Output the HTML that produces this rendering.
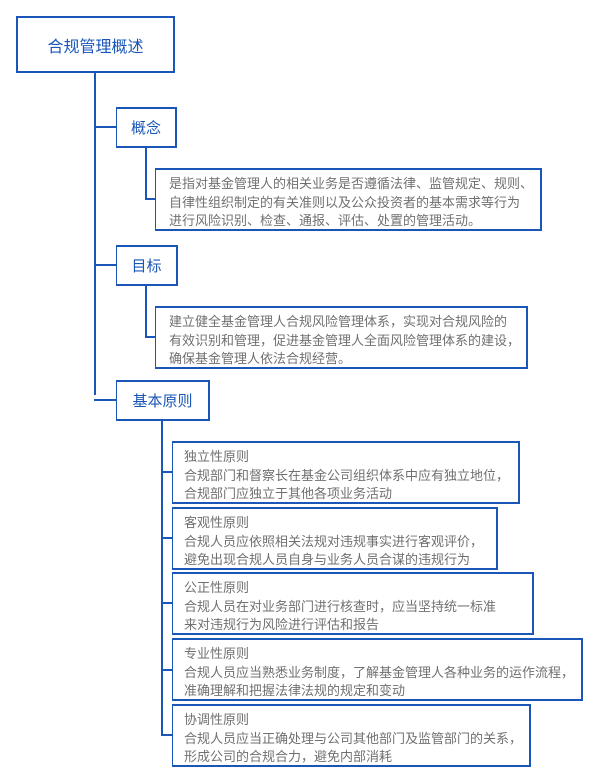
<!DOCTYPE html>
<html><head><meta charset="utf-8"><style>
body{margin:0;width:600px;height:783px;background:#fff;position:relative;overflow:hidden;font-family:"Liberation Sans","Noto Sans CJK SC",sans-serif}
.b{position:absolute;box-sizing:border-box;border:2px solid #1a56b8;border-left-width:1.5px;border-bottom-width:2px;background:#fff}
.h{color:#1a56b8;display:flex;align-items:center;justify-content:center}
.t{color:#707070;font-size:13px;line-height:18.5px;padding:5px 0 0 11px;white-space:nowrap}
.l{position:absolute;background:#1a56b8}
</style></head><body>
<div class="b h" style="left:16px;top:16px;width:159px;height:57px;border-width:2.5px;font-size:16px">合规管理概述</div>
<div class="l" style="left:94px;top:73px;width:2px;height:322px"></div>
<div class="l" style="left:94px;top:126px;width:23px;height:2px"></div>
<div class="l" style="left:94px;top:264px;width:23px;height:2px"></div>
<div class="l" style="left:94px;top:399px;width:23px;height:2px"></div>
<div class="b h" style="left:116px;top:107px;width:61px;height:41px;font-size:15px">概念</div>
<div class="l" style="left:145px;top:148px;width:2px;height:52px"></div>
<div class="l" style="left:145px;top:198px;width:11px;height:2px"></div>
<div class="b t" style="left:155px;top:168px;width:387px;height:63px;padding-left:13px">是指对基金管理人的相关业务是否遵循法律、监管规定、规则、<br>自律性组织制定的有关准则以及公众投资者的基本需求等行为<br>进行风险识别、检查、通报、评估、处置的管理活动。</div>
<div class="b h" style="left:116px;top:245px;width:62px;height:41px;font-size:15px">目标</div>
<div class="l" style="left:145px;top:286px;width:2px;height:52px"></div>
<div class="l" style="left:145px;top:336px;width:11px;height:2px"></div>
<div class="b t" style="left:155px;top:306px;width:373px;height:63px;padding-left:13px">建立健全基金管理人合规风险管理体系，实现对合规风险的<br>有效识别和管理，促进基金管理人全面风险管理体系的建设，<br>确保基金管理人依法合规经营。</div>
<div class="b h" style="left:116px;top:380px;width:94px;height:41px;font-size:15px">基本原则</div>
<div class="l" style="left:161px;top:421px;width:2px;height:315px"></div>
<div class="l" style="left:161px;top:471px;width:12px;height:2px"></div>
<div class="l" style="left:161px;top:537px;width:12px;height:2px"></div>
<div class="l" style="left:161px;top:602px;width:12px;height:2px"></div>
<div class="l" style="left:161px;top:669px;width:12px;height:2px"></div>
<div class="l" style="left:161px;top:734px;width:12px;height:2px"></div>
<div class="b t" style="left:172px;top:441px;width:348px;height:63px">独立性原则<br>合规部门和督察长在基金公司组织体系中应有独立地位，<br>合规部门应独立于其他各项业务活动</div>
<div class="b t" style="left:172px;top:507px;width:326px;height:63px">客观性原则<br>合规人员应依照相关法规对违规事实进行客观评价，<br>避免出现合规人员自身与业务人员合谋的违规行为</div>
<div class="b t" style="left:172px;top:572px;width:362px;height:63px">公正性原则<br>合规人员在对业务部门进行核查时，应当坚持统一标准<br>来对违规行为风险进行评估和报告</div>
<div class="b t" style="left:172px;top:638px;width:411px;height:63px">专业性原则<br>合规人员应当熟悉业务制度，了解基金管理人各种业务的运作流程，<br>准确理解和把握法律法规的规定和变动</div>
<div class="b t" style="left:172px;top:704px;width:359px;height:63px">协调性原则<br>合规人员应当正确处理与公司其他部门及监管部门的关系，<br>形成公司的合规合力，避免内部消耗</div>
</body></html>
